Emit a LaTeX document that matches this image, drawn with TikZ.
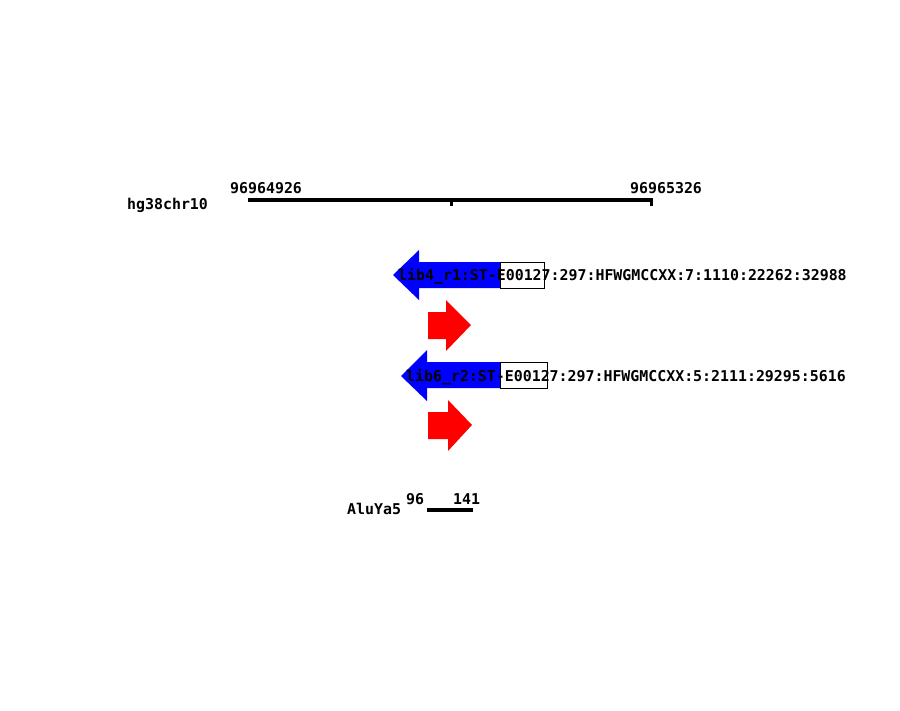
\documentclass[tikz,border=0pt]{standalone}
\usepackage{fontspec}
\setmonofont{DejaVu Sans Mono}
\begin{document}
\begin{tikzpicture}[x=1pt,y=-1pt,
  lbl/.style={font=\ttfamily\bfseries\fontsize{14.9}{15}\selectfont, inner sep=0pt, anchor=base west},
  rule/.style={line width=3.3pt, line cap=rect},
  blue arrow/.style={fill={rgb,255:red,0;green,0;blue,255}, draw=none},
  red arrow/.style={fill={rgb,255:red,255;green,0;blue,0}, draw=none},
  idbox/.style={fill=white, draw=black, line width=1pt}]
\useasboundingbox (0,0) rectangle (900,710);
% ruler
\coordinate (rl) at (250,200);
\coordinate (rr) at (651,200);
\draw[rule] (rl) -- (rr);
\draw[line width=3pt] (451,200) -- (451,206);
\draw[line width=3pt] (651,200) -- (651,206);
\node[lbl] (chr) at (127,209) {hg38chr10};
\node[lbl] (startpos) at (230,193) {96964926};
\node[lbl] (endpos) at (630,193) {96965326};
% read 1
\fill[blue arrow] (393,275) -- (419,250) -- (419,262) -- (500,262) -- (500,288) -- (419,288) -- (419,300) -- cycle;
\draw[idbox] (500,262) rectangle (544,288);
\node[lbl] (read1) at (398,280) {lib4\_r1:ST-E00127:297:HFWGMCCXX:7:1110:22262:32988};
\fill[red arrow] (428,312) -- (446,312) -- (446,300) -- (471,325) -- (446,351) -- (446,339) -- (428,339) -- cycle;
% read 2
\fill[blue arrow] (401,376) -- (427,350) -- (427,362) -- (500,362) -- (500,388) -- (427,388) -- (427,401) -- cycle;
\draw[idbox] (500,362) rectangle (547,388);
\node[lbl] (read2) at (406,381) {lib6\_r2:ST-E00127:297:HFWGMCCXX:5:2111:29295:5616};
\fill[red arrow] (428,412) -- (448,412) -- (448,400) -- (472,425) -- (448,451) -- (448,439) -- (428,439) -- cycle;
% repeat
\node[lbl] (alu) at (347,514) {AluYa5};
\node[lbl] (a96) at (406,504) {96};
\node[lbl] (a141) at (453,504) {141};
\coordinate (al) at (429,510);
\coordinate (ar) at (471,510);
\draw[rule] (al) -- (ar);
\end{tikzpicture}
\end{document}
